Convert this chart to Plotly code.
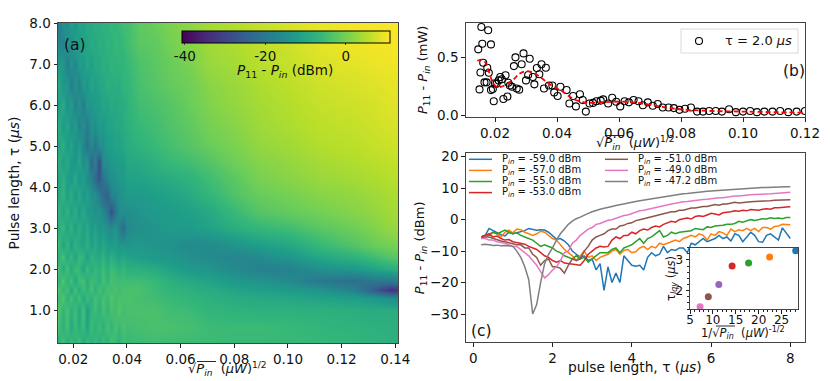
import plotly.graph_objects as go

W, H = 830, 381
FONT = "DejaVu Sans"

# ---------- panel (a) heat map ----------
sqrt_pin = [0.0143,0.016,0.0175,0.019,0.0205,0.022,0.0235,0.025,0.0265,0.028,0.0295,0.031,0.0325,0.034,0.0355,0.037,0.0385,0.04,0.0446,0.05,
            0.0562,0.063,0.0708,0.08,0.0891,0.10,0.112,0.125,0.132,0.138,0.141]
pulse_tau = [0.2,0.6,1.0,1.3,1.5,1.7,2.0,2.3,2.6,3.0,3.4,3.8,4.2,4.6,5.0,5.5,6.0,6.5,7.0,7.5,8.0]
map_dbm = [
 [-8,-4,-9,-5,-8,-4,-10,-5,-8,-5,-9,-5,-8,-4,-6,-8,-5,-6,-5.5,-5, -5.5,-5.5,-5.5,-6,-6,-6,-6,-7,-7.5,-8,-8],
 [-4,-8,-4,-10,-5,-9,-5,-11,-5,-8,-5,-8,-4,-7,-4,-6,-4,-5,-4.5,-4, -4,-4.5,-5.5,-5.5,-5.5,-6,-7,-7.5,-8,-8,-8],
 [-3,-7,-4,-8,-5,-10,-4,-12,-7,-5,-8,-4,-7,-4,-5,-3,-5,-4,-4,-4, -5,-5.5,-7,-7.5,-8,-8,-8,-8.5,-9,-9,-9],
 [-6,-3,-8,-4,-8,-4,-10,-5,-8,-4,-7,-4,-6,-3,-5,-4,-4,-4,-4.5,-5, -6,-7,-8,-9,-9.5,-10,-11,-12,-13,-15,-16],
 [-3,-7,-4,-10,-4,-9,-5,-8,-4,-8,-4,-7,-4,-5,-4,-5,-4,-4,-4,-5.5, -7,-8,-9,-10.5,-11.5,-12.5,-14,-18,-26,-33,-32],
 [-7,-3,-8,-4,-10,-5,-4,-9,-5,-6,-8,-4,-7,-4,-5,-5,-5,-5,-5,-6, -8,-9.5,-11,-13,-14,-16,-20,-22,-20,-20,-18],
 [-4,-9,-4,-10,-5,-6,-11,-5,-9,-6,-8,-5,-8,-5,-6,-8,-6,-8,-8,-9, -11,-13,-14,-16,-18,-18,-15,-13,-11,-9,-8],
 [-8,-4,-10,-6,-11,-6,-7,-12,-7,-9,-10,-7,-11,-8,-10,-11,-10,-11,-12,-13, -13.5,-15,-16,-17,-16,-13.5,-10,-7.5,-5,-3,-2.5],
 [-5,-11,-6,-12,-7,-10,-11,-8,-12,-9,-12,-10,-12,-13,-12,-14,-13,-14,-13,-14, -14.5,-16,-16,-14,-12,-10,-6,-3,-1,0,0.5],
 [-9,-6,-11,-7,-12,-8,-12,-9,-13,-11,-14,-13,-15,-16,-14,-18,-23,-16,-15,-14, -13,-12.5,-11,-8.5,-6.5,-5,-2.5,-0.5,1,2.5,3],
 [-7,-11,-7,-12,-8,-13,-9,-13,-13,-15,-14,-17,-20,-28,-21,-15,-15,-15,-14,-13, -12.5,-11.5,-9.5,-6,-3,-1.5,0,1.5,2.5,3.6,4],
 [-10,-7,-12,-8,-13,-9,-14,-11,-15,-15,-19,-23,-25,-18,-17,-15,-14,-13,-13,-12, -11,-9.5,-6.5,-3.5,-1.2,0,1.5,2.5,3.5,4.2,4.5],
 [-11,-8,-12,-13,-9,-14,-11,-16,-17,-23,-27,-21,-17,-15,-14,-13,-13,-11,-11,-10, -9,-7.5,-5,-2.5,0.3,1.5,3,3.8,4.5,5.2,5.5],
 [-8,-12,-9,-13,-14,-10,-16,-13,-24,-18,-29,-15,-15,-13,-13,-12,-12,-10,-9.5,-8, -6,-5,-3,-0.5,1.3,2.5,4,4.8,5.5,6.2,6.5],
 [-11,-8,-13,-10,-15,-12,-17,-21,-16,-20,-15,-15,-12,-12,-11,-11,-10,-9,-7.5,-6, -4.5,-3,-1,0.5,2.5,3.5,5,5.8,6.5,7,7.3],
 [-8,-13,-10,-15,-12,-18,-15,-19,-14,-15,-12,-13,-11,-11,-10,-10,-9,-8,-6,-5, -3.5,-2,0.2,1.5,3.3,4.5,5.8,6.5,7.2,7.8,8],
 [-12,-9,-15,-12,-18,-14,-19,-13,-14,-12,-12,-10,-11,-9,-10,-9,-9,-7.5,-5,-4, -3,-1,1,2.5,4,5,6.5,7.2,7.8,8.5,8.7],
 [-9,-14,-13,-19,-14,-18,-12,-14,-10,-12,-10,-10,-8,-9,-8,-9,-7,-7,-4.2,-3, -1.5,-0.5,1.8,3,4.5,5.8,7.2,8,8.5,9,9.2],
 [-13,-13,-19,-14,-17,-12,-13,-10,-12,-9,-10,-8,-9,-7,-8,-7,-7,-6,-3.8,-2.5, -1,0.3,3,4,5.5,6.5,8.2,9,9.5,9.8,10],
 [-17,-18,-13,-16,-11,-13,-10,-11,-9,-10,-8,-9,-7,-8,-6,-7,-6,-5,-2.5,-2, 0,1.5,3.5,4.5,6,7.2,9,9.8,10,10.3,10.5],
 [-20,-14,-16,-11,-14,-10,-12,-9,-10,-8,-9,-7,-8,-6,-7,-6,-5,-5,-2,-1, 0.7,2,4,5,6.5,8,9.5,10.3,10.5,10.8,10.9],
]

# ---------- panel (b) ----------
b_x = [0.0156,0.0178,0.0159,0.0187,0.0146,0.0162,0.0175,0.018,0.0153,0.0166,0.0173,0.015,0.0187,0.0193,0.02,0.0196,
       0.0205,0.0212,0.0217,0.0222,0.0234,0.0227,0.024,0.0243,0.0248,0.0255,0.0261,0.0266,0.027,0.0278,0.0286,0.0292,
       0.03,0.0307,0.0312,0.0322,0.0327,0.0335,0.0343,0.035,0.0358,0.0364,0.0374,0.0385,0.0391,0.0402,0.0411,0.0431,
       0.044,0.0452,0.0461,0.0474,0.0483,0.0493,0.0505,0.0516,0.0527,0.0541,0.0549,0.0565,0.0578,0.0591,0.0604,0.0618,
       0.0632,0.0647,0.0663,0.0677,0.0693,0.0709,0.0725,0.0741,0.076,0.0777,0.0795,0.0813,0.0832,0.0852,0.0871,0.0891,
       0.0912,0.0932,0.0955,0.0977,0.1,0.1023,0.1045,0.1069,0.1095,0.112,0.1146,0.1173,0.12]
b_y = [0.763,0.734,0.618,0.612,0.569,0.453,0.41,0.366,0.368,0.283,0.283,0.222,0.216,0.225,0.275,0.12,
       0.27,0.3,0.33,0.31,0.345,0.139,0.16,0.28,0.256,0.245,0.424,0.5,0.23,0.22,0.44,0.534,
       0.3,0.347,0.488,0.33,0.266,0.408,0.354,0.44,0.23,0.41,0.256,0.256,0.196,0.165,0.245,0.217,
       0.1,0.165,0.075,0.18,0.13,0.03,0.1,0.105,0.12,0.125,0.136,0.1,0.15,0.115,0.075,0.12,
       0.11,0.13,0.12,0.085,0.11,0.08,0.095,0.065,0.065,0.06,0.045,0.055,0.065,0.03,0.03,0.035,
       0.035,0.03,0.05,0.025,0.03,0.035,0.025,0.03,0.03,0.035,0.025,0.03,0.035]
fit_x = [0.0143,0.016,0.017,0.018,0.019,0.02,0.021,0.022,0.024,0.026,0.028,0.03,0.032,0.034,0.036,0.038,0.04,0.042,0.044,0.046,0.048,0.05,0.054,0.058,0.062,0.066,0.07,0.074,0.078,0.082,0.086,0.09,0.10,0.11,0.12]
fit_y = [0.47,0.48,0.45,0.38,0.30,0.255,0.24,0.245,0.27,0.31,0.36,0.38,0.37,0.34,0.30,0.26,0.23,0.20,0.16,0.13,0.115,0.105,0.11,0.115,0.115,0.105,0.09,0.07,0.055,0.045,0.04,0.035,0.03,0.025,0.02]

# ---------- panel (c) ----------
tau = [0.2,0.3,0.4,0.5,0.6,0.7,0.8,0.9,1.0,1.1,1.2,1.3,1.4,1.5,1.6,1.7,1.8,1.9,2.0,2.1,
       2.2,2.3,2.4,2.5,2.6,2.7,2.8,2.9,3.0,3.1,3.2,3.3,3.4,3.5,3.6,3.7,3.8,3.9,4.0,4.1,
       4.2,4.3,4.4,4.5,4.6,4.7,4.8,4.9,5.0,5.1,5.2,5.3,5.4,5.5,5.6,5.7,5.8,5.9,6.0,6.1,
       6.2,6.3,6.4,6.5,6.6,6.7,6.8,6.9,7.0,7.1,7.2,7.3,7.4,7.5,7.6,7.7,7.8,7.9,8.0]
p_m59 = [-5.5,-5,-2.8,-3.5,-4,-4.8,-5.2,-4,-4.5,-4.2,-3.8,-3.5,-2.8,-3,-3.4,-3.2,-3.3,-4,-5.2,-6.2,
         -6,-6.8,-8,-10,-11,-12,-11.5,-13,-12.5,-16,-14,-22.5,-15,-20,-17,-20,-11.5,-13,-14.5,-14.8,
         -14.5,-16,-12,-10.5,-11.5,-11,-8.5,-10.5,-9.5,-9.8,-9,-9,-10.5,-7.5,-8,-7,-6,-7,-6.5,-6,
         -5,-6,-5.5,-6.8,-4.5,-5,-7,-5.5,-4,-5,-7,-7.2,-5,-4.5,-5.5,-6.5,-2.6,-4.5,-6]
p_m57 = [-5.5,-5,-4.5,-4,-4.5,-5.5,-4,-3.3,-4.2,-3,-3.2,-4,-4.5,-5,-4.5,-3.7,-4,-5,-6,-6.5,
         -8,-9.5,-10.5,-11.5,-13,-11.5,-10,-12,-11.5,-13,-12,-11.5,-11,-10,-9.5,-11,-9.8,-9.5,-10.5,-10.2,
         -9,-8.5,-9.5,-8.5,-9,-7.5,-8,-7.5,-7,-6.5,-7,-6,-5.5,-5,-5.5,-4.5,-5,-6.5,-4.5,-5,
         -3.8,-4.2,-5,-3,-3.8,-3.2,-3.5,-2.8,-3.5,-2.8,-3.8,-2.5,-2.5,-3,-2.2,-2,-1.5,-1.6,-1.6]
p_m55 = [-5.5,-5,-5,-4,-4.5,-3.8,-3.3,-4,-4.5,-4.2,-5,-5.5,-6,-6.5,-7.5,-8.5,-8,-8.5,-9,-10,
         -10.5,-11.5,-12,-12.5,-11.5,-12.5,-12,-13.5,-12.5,-11.5,-10.5,-10.5,-10.5,-9.5,-9,-10.5,-9,-8.5,-8,-7,
         -6,-7.5,-6,-5.5,-4.5,-3.5,-5.5,-5,-4,-4.5,-4,-3.8,-3.5,-3.5,-2.8,-3,-3.2,-2.3,-2.5,-2,
         -2,-1.8,-1.5,-1.5,-1.2,-0.5,-0.8,-0.3,0,-0.3,0,0.3,0.2,0.6,0.4,0.5,0.3,0.7,0.7]
p_m53 = [-5.5,-5,-4.5,-5.5,-5.2,-6,-6.5,-6.3,-7,-7.3,-7.5,-7.8,-8.5,-9,-9.5,-10.5,-11.5,-12,-13,-13.5,
         -13,-13.8,-14,-14.3,-14.3,-14.5,-13,-11,-10,-9,-8.5,-8.7,-8.5,-6.5,-5.5,-6,-5,-5,-4,-4.5,
         -3.5,-3,-3.3,-2.5,-2,-2.3,-1.5,-1,-0.5,-0.8,0,0.3,0.5,0.2,1,1.2,1,1.5,2,1.8,
         1.5,2.2,2.3,2.5,2.8,2.7,3,2.8,3.2,3,3,3.3,3.5,3.3,3.8,3.8,4,4,4.1]
p_m51 = [-6,-5.5,-5.5,-6,-6.5,-6.8,-7,-7.3,-7.5,-8,-8,-9,-9,-11,-12,-14.5,-13,-12.5,-15,-15,
         -15.5,-17,-14.5,-12.5,-13,-12.5,-10,-8.5,-6.5,-5.5,-5,-4.5,-3.5,-3,-3,-2,-1.8,-1.2,-1,-0.3,
         0,0.3,0.5,1,1.3,1.5,1.8,2,2.5,2.5,3,3,3.3,3.7,3.7,4,4.2,4.2,4.5,4.8,
         4.6,5,5,5.2,5.5,5.3,5.5,5.7,5.7,5.8,5.8,6,5.9,6,6.2,6.2,6.2,6.3,6.3]
p_m49 = [-6,-6,-6.5,-6.5,-7,-7.2,-7.5,-8,-8.5,-8.5,-9.5,-10.5,-11.5,-13,-14.5,-16.5,-18.5,-17.5,-16,-15,
         -13,-10.5,-10,-7.5,-6.5,-5,-4,-3,-2.5,-1.5,-1.2,-0.7,-0.2,0,0.5,1,1.3,1.5,2,2.3,
         2.8,3,3.3,3.7,4,4.2,4.5,4.8,5,5.2,5.5,5.7,5.8,6,6.1,6.3,6.4,6.5,6.7,6.8,
         7,7,7.2,7.3,7.5,7.5,7.7,7.7,7.9,8,8,8,8.1,8.2,8.3,8.4,8.5,8.6,8.7]
p_m47 = [-8,-7.8,-8,-8.2,-8.1,-8.3,-8.2,-8.3,-8.5,-10,-12,-15,-19,-30,-27,-20,-14,-11,-9,-6.5,
         -4.5,-3,-1.5,-0.5,0.3,0.8,1.5,2,2.5,3,3.3,3.6,4,4.2,4.5,4.8,5,5.2,5.5,5.8,
         6,6.2,6.5,6.8,7,7.1,7.3,7.5,7.7,7.9,8,8.2,8.3,8.5,8.7,8.8,8.9,9,9.1,9.2,
         9.3,9.4,9.5,9.6,9.7,9.7,9.8,9.9,10,10,10.1,10.2,10.2,10.3,10.3,10.4,10.4,10.5,10.5]
series_c = [("-59.0", p_m59), ("-57.0", p_m57), ("-55.0", p_m55), ("-53.0", p_m53),
            ("-51.0", p_m51), ("-49.0", p_m49), ("-47.2", p_m47)]
colors = ["#1f77b4","#ff7f0e","#2ca02c","#d62728","#8c564b","#e377c2","#7f7f7f"]

# ---------- inset ----------
inv_sqrt = [28.1,22.4,17.8,14.2,11.3,9.0,7.2]
tau_iqy = [3.3,3.1,2.9,2.8,2.2,1.8,1.47]
inset_colors = ["#1f77b4","#ff7f0e","#2ca02c","#d62728","#9467bd","#8c564b","#e377c2"]

def dx(a, b): return [a / W, b / W]
def dy(top, bottom): return [1 - bottom / H, 1 - top / H]

FRAME = "#444444"
def ax(domain, rng, size=13.5, **kw):
    d = dict(domain=domain, range=rng, showgrid=False, zeroline=False, showline=True, mirror=True,
             linecolor=FRAME, linewidth=1, ticks="outside", ticklen=3.5, tickwidth=1, tickcolor="#222",
             tickfont=dict(family=FONT, size=size, color="#111"))
    d.update(kw)
    return d

fig = go.Figure()
fig.add_trace(go.Heatmap(
    x=sqrt_pin, y=pulse_tau, z=map_dbm, colorscale="Viridis", zmin=-40.7, zmax=11, zsmooth="best",
    xaxis="x", yaxis="y", showlegend=False,
    colorbar=dict(orientation="h", x=182/W, y=1-31/H, xanchor="left", yanchor="top", len=208, lenmode="pixels",
                  thickness=11.5, thicknessmode="pixels", xpad=0, ypad=0, outlinecolor="#000", outlinewidth=1,
                  tickmode="array", tickvals=[-40,-20,0], ticktext=["-40","-20","0"], ticks="outside", ticklen=2,
                  tickfont=dict(family=FONT, size=13.5, color="#111"))))

fig.add_trace(go.Scatter(x=b_x, y=b_y, mode="markers", xaxis="x2", yaxis="y2", showlegend=False,
                         name="τ = 2.0 µs",
                         marker=dict(symbol="circle-open", size=7, color="#000", line=dict(width=1.1, color="#000"))))
fig.add_trace(go.Scatter(x=fit_x, y=fit_y, mode="lines", xaxis="x2", yaxis="y2", showlegend=False,
                         line=dict(color="#ff0000", width=1.8, dash="5px,3px", shape="spline")))

for i, (lab, vals) in enumerate(series_c):
    fig.add_trace(go.Scatter(x=tau, y=vals, mode="lines", xaxis="x3", yaxis="y3",
                             name=f"P<sub>in</sub> = {lab} dBm", showlegend=False,
                             line=dict(color=colors[i], width=1.5)))

fig.add_trace(go.Scatter(x=inv_sqrt, y=tau_iqy, mode="markers", xaxis="x4", yaxis="y4", showlegend=False,
                         cliponaxis=False, marker=dict(size=7, color=inset_colors)))

TITLE = dict(family=FONT, size=13, color="#111")
INK = "#111"

def label(text, px, py, size=13, anchor="center", angle=0):
    return dict(text=text, xref="paper", yref="paper", x=px/W, y=1-py/H, xanchor=anchor, yanchor="middle",
                showarrow=False, textangle=angle, font=dict(family=FONT, size=size, color=INK))

def overline(x0, x1, py):
    return dict(type="line", xref="paper", yref="paper", x0=x0/W, x1=x1/W, y0=1-py/H, y1=1-py/H,
                line=dict(color=INK, width=0.9))

SQRT = "√<i>P<sub>in</sub></i>  (<i>µW</i>)<sup>1/2</sup>"
annotations = [
    label("(a)", 62, 45, 15.5, "left"),
    label("(b)", 781, 71, 15.5, "left"),
    label("(c)", 469, 330.5, 15.5, "left"),
    label("<i>P</i><sub>11</sub> - <i>P<sub>in</sub></i> (dBm)", 285, 71, 13.5),
    label(SQRT, 227, 369, 13),
    label(SQRT, 635, 143, 13),
    label("pulse length, τ (<i>µs</i>)", 635, 367, 13.8),
    label("1/√<i>P<sub>in</sub></i>  (<i>µW</i>)<sup>-1/2</sup>", 743, 333, 11.5),
    label("τ<sub><i>lqy</i></sub> (<i>µs</i>)", 671, 279, 11.5, angle=-90),
    label("τ = 2.0 <i>µs</i>", 723, 41, 13, "left"),
]
shapes = [
    overline(197, 216, 361.5),
    overline(605, 624, 135.5),
    overline(716, 735, 326),
    dict(type="rect", xref="paper", yref="paper", x0=681/W, x1=798/W, y0=1-29/H, y1=1-53/H,
         line=dict(color="#d8d8d8", width=1), fillcolor="white"),
    dict(type="circle", xref="paper", yref="paper", x0=695.5/W, x1=702.5/W, y0=1-37.5/H, y1=1-44.5/H,
         line=dict(color="#000", width=1.1)),
]
# hand-built two-column legend of panel (c): tight rows, as in the reference
for i, (lab, _) in enumerate(series_c):
    x0 = 469 if i < 4 else 605
    yy = 159.3 + (i if i < 4 else i - 4) * 11.1
    shapes.append(dict(type="line", xref="paper", yref="paper", x0=x0/W, x1=(x0+23)/W, y0=1-yy/H, y1=1-yy/H,
                       line=dict(color=colors[i], width=1.5)))
    annotations.append(label(f"P<sub><i>in</i></sub> = {lab} dBm", x0+31, yy, 10, "left"))

fig.update_layout(
    width=W, height=H, margin=dict(l=0, r=0, t=0, b=0, autoexpand=False), autosize=False,
    paper_bgcolor="white", plot_bgcolor="white", font=dict(family=FONT, color=INK),
    xaxis=ax(dx(58,398), [0.0143,0.141], anchor="y", tickvals=[0.02,0.04,0.06,0.08,0.10,0.12,0.14], tickformat=".2f"),
    yaxis=ax(dy(23,343), [0.2,8.0], anchor="x", tickvals=[1,2,3,4,5,6,7,8], tickformat=".1f",
             title=dict(text="Pulse length, τ (<i>µs</i>)", standoff=6, font=dict(family=FONT, size=13.8, color=INK))),
    xaxis2=ax(dx(465.7,805), [0.01055,0.12], anchor="y2", tickvals=[0.02,0.04,0.06,0.08,0.10,0.12], tickformat=".2f"),
    yaxis2=ax(dy(22.7,117), [-0.017,0.80], anchor="x2", tickvals=[0,0.5], tickformat=".1f",
              title=dict(text="<i>P</i><sub>11</sub> - <i>P<sub>in</sub></i> (mW)", standoff=6, font=TITLE)),
    xaxis3=ax(dx(465.7,805), [-0.19,8.37], anchor="y3", tickvals=[0,2,4,6,8]),
    yaxis3=ax(dy(153.3,342.3), [-39,21.1], anchor="x3", tickvals=[-30,-20,-10,0,10,20],
              title=dict(text="<i>P</i><sub>11</sub> - <i>P<sub>in</sub></i> (dBm)", standoff=2, font=TITLE)),
    xaxis4=ax(dx(690,798), [5,28.6], size=12, anchor="y4", tickvals=[5,10,15,20,25], ticklabelstandoff=-4,
              minor=dict(ticks="outside", ticklen=2, dtick=1, tickcolor="#222")),
    yaxis4=ax(dy(247.7,309), [1.4,3.4], size=12, anchor="x4", tickvals=[2,3],
              minor=dict(ticks="outside", ticklen=2, dtick=0.2, tickcolor="#222")),
    annotations=annotations, shapes=shapes,
)
fig.write_html("out.html", post_script="document.body.style.margin='0';", config={"displayModeBar": False})
